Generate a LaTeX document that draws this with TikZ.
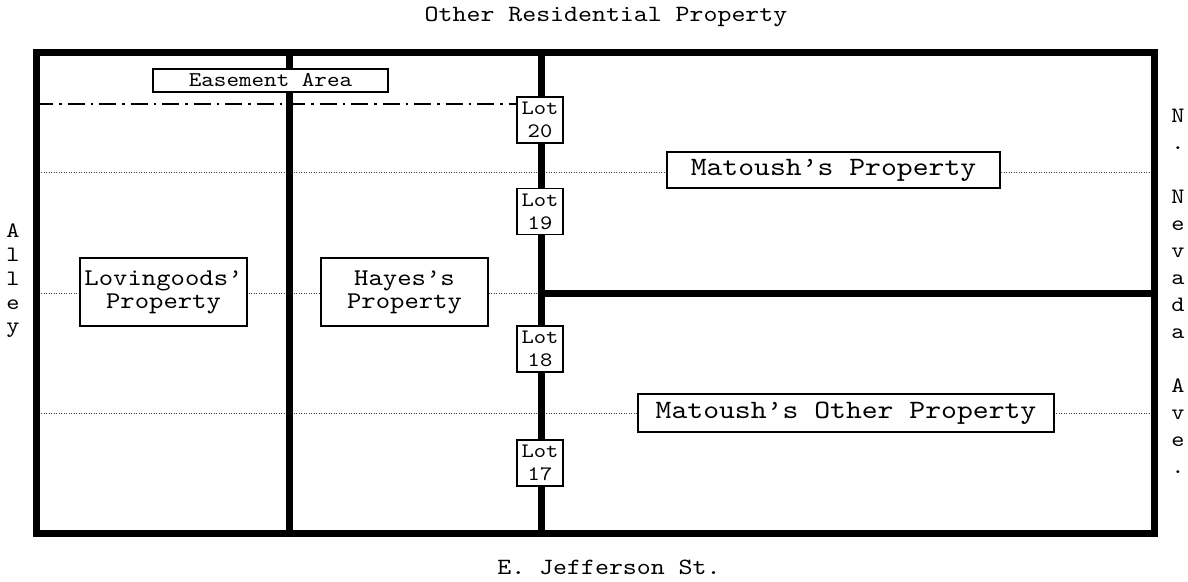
\documentclass[tikz,border=0pt]{standalone}
\usepackage{fontspec}
\setmainfont{lmmono10-regular.otf}[FakeStretch=1.14]
\begin{document}
\begin{tikzpicture}[x=1pt,y=-1pt,
  wall/.style={line width=7pt, line join=miter},
  dotline/.style={line width=0.8pt, dash pattern=on 1.2pt off 1.3pt, black!75},
  dashdot/.style={line width=2.6pt, dash pattern=on 17pt off 6pt on 2.5pt off 6pt},
  lotbox/.style={draw, line width=1.5pt, fill=white, minimum width=46pt, minimum height=46pt, inner sep=0pt, align=center, font=\fontsize{20.5}{23}\selectfont},
  propbox/.style={draw, line width=1.5pt, fill=white, inner sep=0pt, align=center, font=\fontsize{24}{23}\selectfont},
  bigbox/.style={draw, line width=1.5pt, fill=white, inner sep=0pt, font=\fontsize{26.5}{28}\selectfont},
  lbl/.style={inner sep=0pt, align=center, font=\fontsize{23.3}{27}\selectfont}]
\useasboundingbox (0,0) rectangle (1188,581);
% corners and line ends
\coordinate (TL) at (36,52);
\coordinate (BR) at (1154,533);
\coordinate (V1t) at (289,52);
\coordinate (V1b) at (289,533);
\coordinate (V2t) at (541,52);
\coordinate (V2b) at (541,533);
\coordinate (Hm) at (541,293);
\coordinate (HmE) at (1154,293);
\coordinate (D1w) at (36,172);
\coordinate (D1e) at (1154,172);
\coordinate (D2w) at (36,293);
\coordinate (D3w) at (36,413);
\coordinate (D3e) at (1154,413);
\coordinate (DDw) at (36,104);
% dotted lot lines
\draw[dotline] (D1w) -- (D1e);
\draw[dotline] (D2w) -- (Hm);
\draw[dotline] (D3w) -- (D3e);
% walls
\draw[wall] (V1t) -- (V1b);
\draw[wall] (V2t) -- (V2b);
\draw[wall] (Hm) -- (HmE);
\draw[wall] (TL) rectangle (BR);
% lots
\node[lotbox] (lot20) at (540,120) {Lot\\20};
\node[lotbox] (lot19) at (540,211.5) {Lot\\19};
\node[lotbox] (lot18) at (540,349) {Lot\\18};
\node[lotbox] (lot17) at (540,463) {Lot\\17};
% easement
\draw[dashdot] (DDw) -- (DDw -| lot20.west);
\node[draw, line width=1.5pt, fill=white, inner sep=0pt, minimum width=235pt, minimum height=23pt, font=\fontsize{21}{23}\selectfont] (ease) at (270.5,80.5) {Easement Area};
% properties
\node[propbox, minimum width=167pt, minimum height=68pt] (lov) at (163.5,292) {Lovingoods'\\Property};
\node[propbox, minimum width=167pt, minimum height=68pt] (hay) at (404.5,292) {Hayes's\\Property};
\node[bigbox, minimum width=333pt, minimum height=36pt] (mat) at (833.5,170) {Matoush's Property};
\node[bigbox, minimum width=416pt, minimum height=38pt] (mato) at (846,413) {Matoush's Other Property};
% streets
\node[lbl] (north) at (606,17) {Other Residential Property};
\node[lbl] (south) at (609,567) {E. Jefferson St.};
\node[inner sep=0pt, align=center, font=\fontsize{22}{23.75}\selectfont] (alley) at (13,281) {A\\l\\l\\e\\y};
\node[inner sep=0pt, align=center, font=\fontsize{22}{27}\selectfont] (nevada) at (1178,291.5) {N\\.\\[27pt]N\\e\\v\\a\\d\\a\\[27pt]A\\v\\e\\.};
\end{tikzpicture}
\end{document}
